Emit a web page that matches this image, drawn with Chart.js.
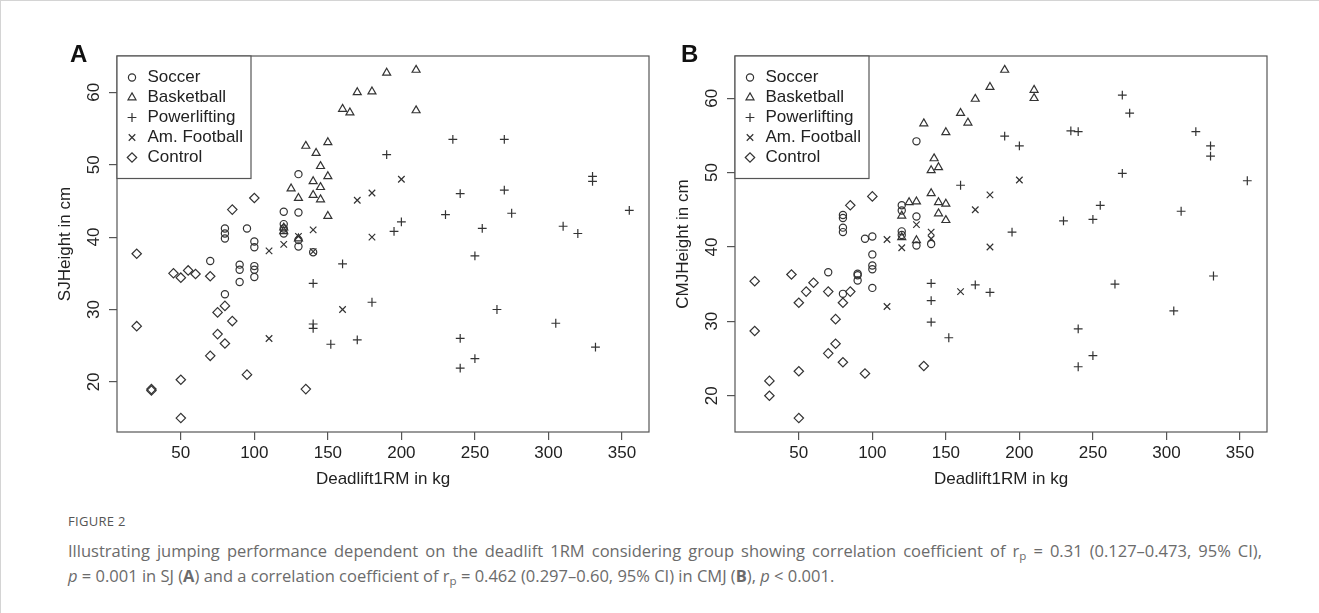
<!DOCTYPE html>
<html>
<head>
<meta charset="utf-8">
<script src="https://cdn.jsdelivr.net/npm/chart.js@4.4.1/dist/chart.umd.min.js"></script>
<style>
  body { margin: 0; background: #fff; width: 1319px; height: 613px; overflow: hidden; position: relative; font-family: "Liberation Sans", Arial, sans-serif; }
  .frame { position: absolute; left: 0; top: 0; width: 1319px; height: 613px; border-top: 1px solid #d4d4d4; border-left: 1px solid #d4d4d4; box-sizing: border-box; }
  .panel { position: absolute; top: 0; width: 660px; height: 500px; }
  #wrapA { left: 0; }
  #wrapB { left: 618px; }
  .tag { position: absolute; top: 42px; font: bold 24px/24px "Liberation Sans", Arial, sans-serif; color: #111; }
  .cap { position: absolute; left: 68px; color: #6b6b6b; font-family: "Open Sans", sans-serif; white-space: nowrap; }
  .fig { top: 512px; font-size: 13px; color: #555; letter-spacing: 0.3px; }
  .l1 { top: 539px; font-size: 16.5px; width: 1194px; text-align: justify; text-align-last: justify; }
  .l2 { top: 564px; font-size: 16.5px; }
  sub { font-size: 70%; vertical-align: -3px; line-height: 0; }
</style>
</head>
<body>
<div class="frame"></div>
<div class="panel" id="wrapA"><canvas id="chartA" width="660" height="500"></canvas></div>
<div class="panel" id="wrapB"><canvas id="chartB" width="660" height="500"></canvas></div>
<div class="tag" style="left:70px">A</div>
<div class="tag" style="left:681px">B</div>
<div class="cap fig">FIGURE 2</div>
<div class="cap l1">Illustrating jumping performance dependent on the deadlift 1RM considering group showing correlation coefficient of r<sub>p</sub> = 0.31 (0.127–0.473, 95% CI),</div>
<div class="cap l2"><i>p</i> = 0.001 in SJ (<b>A</b>) and a correlation coefficient of r<sub>p</sub> = 0.462 (0.297–0.60, 95% CI) in CMJ (<b>B</b>), <i>p</i> &lt; 0.001.</div>

<script>
// groups + tick labels
const groups = ['Soccer', 'Basketball', 'Powerlifting', 'Am. Football', 'Control'];
const xTicks = [50, 100, 150, 200, 250, 300, 350];
const yTicks = [20, 30, 40, 50, 60];

// SJ (panel A) - [deadlift kg, height cm]
const sjSoccer = [[130,48.7],[120,43.5],[130,43.4],[80,41.2],[80,40.5],[80,39.8],[95,41.2],[100,39.4],[100,38.6],
  [120,41.8],[120,41.2],[120,40.5],[130,39.6],[130,38.7],[140,37.9],[90,36.2],[90,35.5],[90,33.8],[100,36.0],
  [100,35.5],[100,34.5],[70,36.7],[80,32.1]];
const sjBasketball = [[190,62.7],[210,63.1],[170,60.0],[180,60.1],[160,57.7],[165,57.2],[210,57.5],[135,52.6],
  [150,53.1],[142,51.6],[145,49.8],[150,48.4],[140,47.7],[145,46.9],[125,46.7],[130,45.4],[140,45.8],[145,45.2],
  [150,42.9],[120,41.3],[120,40.8],[130,39.8]];
const sjPowerlifting = [[235,53.5],[270,53.5],[190,51.4],[330,48.4],[330,47.7],[240,46.0],[270,46.5],[230,43.1],
  [275,43.3],[355,43.7],[200,42.1],[195,40.8],[255,41.2],[310,41.5],[320,40.5],[250,37.4],[160,36.3],[140,33.6],
  [180,31.0],[265,30.0],[305,28.1],[170,25.8],[240,26.0],[250,23.2],[240,21.9],[332,24.8],[140,28.0],[140,27.4],
  [152,25.2]];
const sjFootball = [[200,48.0],[170,45.1],[180,46.1],[180,40.0],[140,41.0],[130,40.1],[120,39.0],[110,38.1],
  [140,38.0],[110,26.0],[160,30.0]];
const sjControl = [[100,45.4],[85,43.8],[20,37.7],[45,35.0],[50,34.4],[55,35.4],[60,34.9],[70,34.6],[75,29.6],
  [80,30.5],[85,28.4],[75,26.6],[80,25.3],[70,23.6],[20,27.7],[30,19.0],[30,18.8],[50,20.3],[95,21.0],[135,19.0],
  [50,15.0]];

// CMJ (panel B)
const cmjSoccer = [[130,54.2],[80,44.3],[80,43.9],[80,42.6],[80,42.0],[95,41.1],[100,41.4],[100,39.0],[100,37.5],
  [100,37.0],[100,34.5],[120,45.6],[120,44.9],[120,42.1],[120,41.6],[130,44.1],[130,40.2],[140,40.4],[90,36.2],
  [90,36.4],[90,35.5],[70,36.6],[80,33.7]];
const cmjBasketball = [[190,63.8],[180,61.5],[170,59.9],[210,61.1],[210,60.0],[160,58.0],[165,56.7],[135,56.6],
  [150,55.4],[142,51.9],[140,50.3],[145,50.7],[140,47.2],[145,46.0],[150,45.8],[145,44.5],[150,43.6],[125,46.0],
  [130,46.1],[120,44.2],[130,40.9],[120,41.3]];
const cmjPowerlifting = [[270,60.4],[275,58.0],[235,55.6],[240,55.5],[320,55.5],[330,53.6],[330,52.2],[190,54.9],
  [200,53.6],[270,49.9],[355,48.9],[160,48.3],[255,45.6],[250,43.7],[230,43.5],[310,44.8],[195,42.0],[140,35.1],
  [140,32.8],[140,29.9],[152,27.8],[170,34.9],[180,33.9],[265,35.0],[332,36.1],[305,31.4],[240,29.0],[250,25.4],
  [240,23.9]];
const cmjFootball = [[200,49.0],[180,47.0],[170,45.0],[180,40.0],[130,43.0],[110,41.0],[120,39.9],[140,42.0],
  [140,41.1],[110,32.0],[160,34.0]];
const cmjControl = [[100,46.8],[85,45.6],[20,35.4],[20,28.7],[30,22.0],[30,20.0],[45,36.3],[50,32.5],[55,34.0],
  [60,35.2],[70,34.0],[80,32.5],[85,34.0],[75,30.3],[75,27.0],[70,25.7],[80,24.5],[50,23.3],[95,23.0],[135,24.0],
  [50,17.0]];

const markers = [
  { style: 'circle', r: 3.6 },
  { style: 'triangle', r: 4.6 },
  { style: 'cross', r: 4.4 },
  { style: 'crossRot', r: 4.6 },
  { style: 'rectRot', r: 4.7 }
];
const ink = '#333';
const font17 = { family: '"Liberation Sans", Arial, sans-serif', size: 17 };

// R style range: data range extended by 4% each side
function rRange(vals) {
  const lo = Math.min(...vals), hi = Math.max(...vals);
  const d = (hi - lo) * 0.04;
  return [lo - d, hi + d];
}

// box around plot + legend in the top-left corner
const rBox = {
  id: 'rBox',
  afterDatasetsDraw(chart) {
    const { ctx, chartArea: a } = chart;
    ctx.save();
    ctx.strokeStyle = '#555';
    ctx.lineWidth = 1.2;
    ctx.strokeRect(a.left, a.top, a.right - a.left, a.bottom - a.top);

    const lw = 134, lh = 122.5;
    ctx.fillStyle = '#fff';
    ctx.fillRect(a.left, a.top, lw, lh);
    ctx.strokeRect(a.left, a.top, lw, lh);

    ctx.font = '17px "Liberation Sans", Arial, sans-serif';
    ctx.textBaseline = 'middle';
    chart.data.datasets.forEach((ds, i) => {
      const y = a.top + 21.5 + i * 20;
      ctx.strokeStyle = ink;
      ctx.fillStyle = 'rgba(0,0,0,0)';
      ctx.lineWidth = ds.borderWidth;
      Chart.helpers.drawPoint(ctx, { pointStyle: ds.pointStyle, radius: ds.pointRadius, borderWidth: ds.borderWidth, rotation: 0 }, a.left + 15, y);
      ctx.fillStyle = '#222';
      ctx.fillText(ds.label, a.left + 30.5, y);
    });
    ctx.restore();
  }
};

function makePanel(id, series, yTitle) {
  const all = series.flat();
  const [xMin, xMax] = rRange(all.map(p => p[0]));
  const [yMin, yMax] = rRange(all.map(p => p[1]));

  return new Chart(document.getElementById(id), {
    type: 'scatter',
    data: {
      datasets: series.map((pts, i) => ({
        label: groups[i],
        data: pts.map(p => ({ x: p[0], y: p[1] })),
        pointStyle: markers[i].style,
        pointRadius: markers[i].r,
        borderColor: ink,
        backgroundColor: 'rgba(0,0,0,0)',
        borderWidth: 1.2
      }))
    },
    options: {
      responsive: false,
      animation: false,
      events: [],
      layout: { padding: { left: 45, top: 56, right: 11, bottom: 0 } },
      plugins: { legend: { display: false }, tooltip: { enabled: false } },
      scales: {
        x: {
          type: 'linear',
          min: xMin, max: xMax,
          afterBuildTicks: s => { s.ticks = xTicks.map(v => ({ value: v })); },
          afterFit: s => { s.height = 68; },
          grid: { drawOnChartArea: false, tickLength: 8, color: '#555', lineWidth: 1.2 },
          border: { display: false },
          ticks: { font: font17, color: '#222', padding: 3, maxRotation: 0, autoSkip: false },
          title: { display: true, text: 'Deadlift1RM in kg', font: font17, color: '#222', padding: { top: 0, bottom: 10.8 } }
        },
        y: {
          type: 'linear',
          min: yMin, max: yMax,
          afterBuildTicks: s => { s.ticks = yTicks.map(v => ({ value: v })); },
          afterFit: s => { s.width = 72; },
          grid: { drawOnChartArea: false, tickLength: 8, color: '#555', lineWidth: 1.2 },
          border: { display: false },
          ticks: { font: font17, color: '#222', padding: 5.5, minRotation: 90, maxRotation: 90, crossAlign: 'center', autoSkip: false },
          title: { display: true, text: yTitle, font: font17, color: '#222', padding: { top: 10.5, bottom: 0 } }
        }
      }
    },
    plugins: [rBox]
  });
}

makePanel('chartA', [sjSoccer, sjBasketball, sjPowerlifting, sjFootball, sjControl], 'SJHeight in cm');
makePanel('chartB', [cmjSoccer, cmjBasketball, cmjPowerlifting, cmjFootball, cmjControl], 'CMJHeight in cm');
</script>
</body>
</html>
